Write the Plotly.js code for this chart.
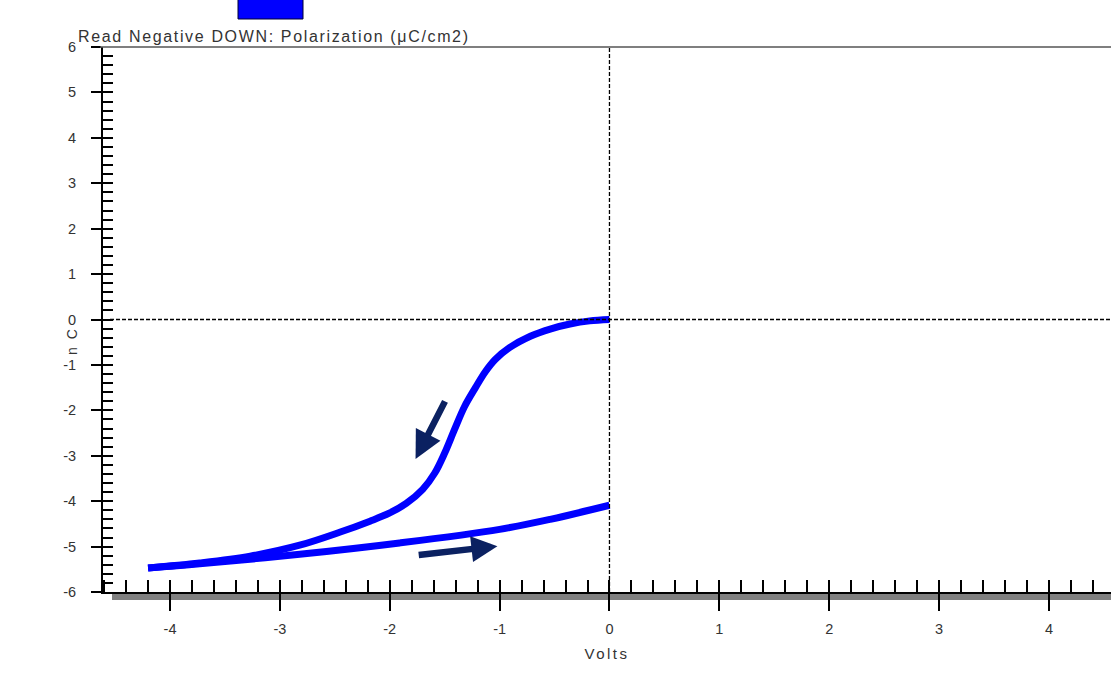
<!DOCTYPE html>
<html>
<head>
<meta charset="utf-8">
<script src="https://cdn.plot.ly/plotly-3.0.1.min.js"></script>
<style>
html,body{margin:0;padding:0;background:#fff;}
#chart{width:1111px;height:691px;}
.gtitle{letter-spacing:1.65px;}
.xtitle{letter-spacing:2.5px;}
.annotation-text{letter-spacing:2px;}
</style>
</head>
<body>
<div id="chart"></div>
<script>
// Upper (switching) branch: from 0 V down to -4.2 V
const upperVolts = [0, -0.18, -0.36, -0.54, -0.72, -0.91, -1.04, -1.13, -1.22, -1.32, -1.41, -1.50, -1.59, -1.70, -1.85, -2.00, -2.18, -2.45, -2.82, -3.27, -3.73, -4.20];
const upperCharge = [0, -0.03, -0.10, -0.21, -0.37, -0.62, -0.88, -1.15, -1.50, -1.92, -2.42, -2.94, -3.38, -3.74, -4.05, -4.26, -4.44, -4.68, -4.97, -5.21, -5.36, -5.47];
// Lower (return) branch: from -4.2 V back to 0 V
const lowerVolts = [-4.20, -3.73, -2.82, -1.91, -1.00, -0.54, 0];
const lowerCharge = [-5.47, -5.38, -5.17, -4.92, -4.62, -4.40, -4.09];

const xTickVals = [-4, -3, -2, -1, 0, 1, 2, 3, 4];
const xTickText = ["-4", "-3", "-2", "-1", "0", "1", "2", "3", "4"];
const yTickVals = [-6, -5, -4, -3, -2, -1, 0, 1, 2, 3, 4, 5, 6];
const yTickText = ["-6", "-5", "-4", "-3", "-2", "-1", "0", "1", "2", "3", "4", "5", "6"];

const titleText = "Read Negative DOWN: Polarization (μC/cm2)";
const xTitle = "Volts";
const yTitle = "n C";

const font = "'Liberation Sans Narrow', 'Liberation Sans', Arial, sans-serif";
const blue = "#0000ff";
const navy = "#0b2161";

const traces = [
  {x: upperVolts, y: upperCharge, type: "scatter", mode: "lines",
   line: {color: blue, width: 7, shape: "spline", smoothing: 1}, hoverinfo: "x+y", showlegend: false},
  {x: lowerVolts, y: lowerCharge, type: "scatter", mode: "lines",
   line: {color: blue, width: 7, shape: "spline", smoothing: 1}, hoverinfo: "x+y", showlegend: false},
  {x: [0], y: [0], xaxis: "x2", yaxis: "y2", type: "scatter", mode: "markers", marker: {opacity: 0}, showlegend: false, hoverinfo: "skip"}
];

const xr = [-4.61, 4.565];
const yr = [-6, 6];
const tickFont = {family: font, size: 14.5, color: "#333"};

const layout = {
  width: 1111, height: 691,
  margin: {l: 103, r: 0, t: 47, b: 99},
  paper_bgcolor: "#fff", plot_bgcolor: "#fff",
  showlegend: false,
  title: {text: titleText, font: {family: font, size: 16, color: "#333"},
          xref: "container", x: 78/1111, xanchor: "left", yref: "container", y: 1 - 36/691, yanchor: "middle"},
  xaxis: {range: xr, tickvals: xTickVals, ticktext: xTickText, ticks: "outside", ticklen: 17, tickwidth: 2, tickcolor: "#000",
          showline: true, linecolor: "#000", linewidth: 2, showgrid: false, zeroline: false,
          tickfont: tickFont, ticklabelstandoff: 6,
          title: {text: xTitle, font: {family: font, size: 15, color: "#333"}, standoff: 12}},
  xaxis2: {range: xr, overlaying: "x", tickvals: xTickVals, ticks: "inside", ticklen: 12, tickwidth: 2, tickcolor: "#000",
           showticklabels: false, showgrid: false, zeroline: false, showline: false,
           minor: {dtick: 0.2, tick0: 0, ticks: "inside", ticklen: 12, tickwidth: 2, tickcolor: "#000", showgrid: false}},
  yaxis: {range: yr, tickvals: yTickVals, ticktext: yTickText, ticks: "outside", ticklen: 10, tickwidth: 2, tickcolor: "#000",
          showline: true, linecolor: "#000", linewidth: 2, showgrid: false, zeroline: false,
          tickfont: tickFont, ticklabelstandoff: 12},
  yaxis2: {range: yr, overlaying: "y", tickvals: yTickVals, ticks: "inside", ticklen: 10, tickwidth: 2, tickcolor: "#000",
           showticklabels: false, showgrid: false, zeroline: false, showline: false,
           minor: {dtick: 0.2, tick0: 0, ticks: "inside", ticklen: 10, tickwidth: 2, tickcolor: "#000", showgrid: false}},
  shapes: [
    {type: "rect", xref: "paper", yref: "paper", x0: 9/1008, x1: 1, y0: -8/545, y1: 0, fillcolor: "#808080", line: {width: 0}, layer: "below"},
    {type: "line", xref: "paper", yref: "paper", x0: -3/1008, x1: 1, y0: 1, y1: 1, line: {color: "#555", width: 1.5}},
    {type: "line", xref: "paper", yref: "y", x0: 7/1008, x1: 1, y0: 0, y1: 0, line: {color: "#000", width: 1.3, dash: "4px,2px"}},
    {type: "line", xref: "x", yref: "paper", x0: 0, x1: 0, y0: 0, y1: 1, line: {color: "#000", width: 1.3, dash: "4px,2px"}},
    {type: "rect", xref: "paper", yref: "paper", x0: 135/1008, x1: 200/1008, y0: (592-19)/545, y1: (592+2)/545, fillcolor: blue, line: {color: "#000033", width: 1}}
  ],
  annotations: [
    {xref: "x", yref: "y", axref: "x", ayref: "y", x: -1.765, y: -3.07, ax: -1.49, ay: -1.77,
     showarrow: true, arrowhead: 2, arrowsize: 0.85, arrowwidth: 6.5, arrowcolor: navy, text: ""},
    {xref: "x", yref: "y", axref: "x", ayref: "y", x: -1.02, y: -4.99, ax: -1.75, ay: -5.19,
     showarrow: true, arrowhead: 2, arrowsize: 0.8, arrowwidth: 6.5, arrowcolor: navy, text: ""},
    {xref: "paper", yref: "paper", x: (72-103)/1008, y: (592-341)/545, text: yTitle, textangle: -90, showarrow: false,
     font: {family: font, size: 14, color: "#333"}, xanchor: "center", yanchor: "middle"}
  ]
};

Plotly.newPlot("chart", traces, layout, {displayModeBar: false, staticPlot: true});
</script>
</body>
</html>
